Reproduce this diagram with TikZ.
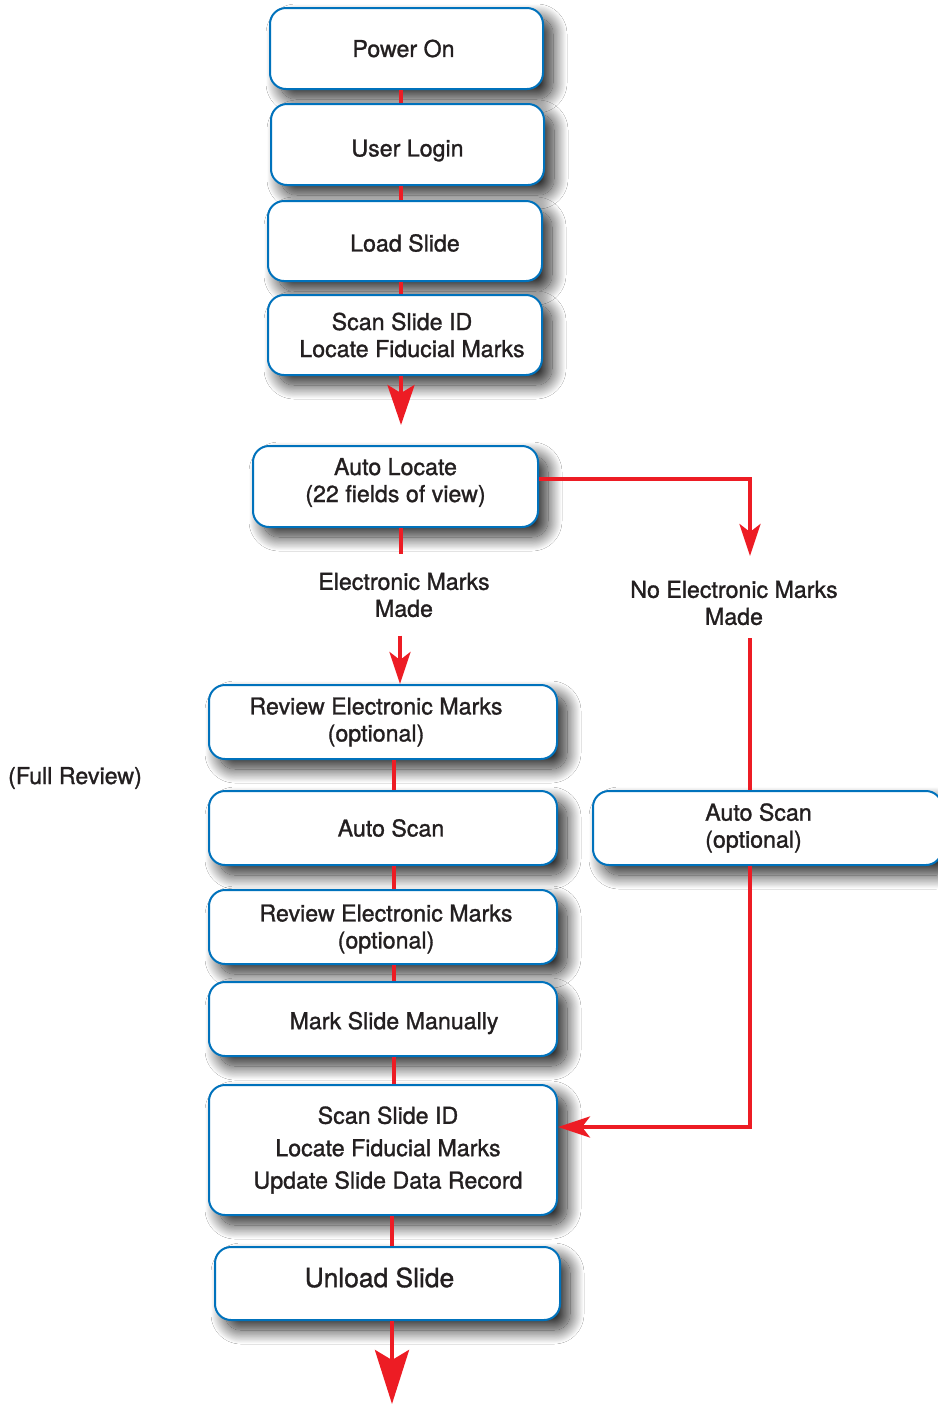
\documentclass[tikz,border=0pt]{standalone}
\usepackage{fontspec}
\setmainfont{TeX Gyre Heros}[UprightFeatures={FakeBold=1.2}]
\usetikzlibrary{arrows.meta,shadows.blur,calc}
\definecolor{boxblue}{RGB}{0,114,188}
\definecolor{flowred}{RGB}{237,28,36}
\definecolor{txt}{RGB}{35,31,32}
\newcommand{\lft}[2]{\raisebox{#1}[\height][\depth]{#2}}
\begin{document}
\begin{tikzpicture}[x=0.5pt,y=-0.5pt,
  box/.style={draw=boxblue, line width=1pt, rounded corners=8pt, fill=white,
    align=center, text=txt, font=\fontsize{11.6}{13.5}\selectfont,
    blur shadow={shadow xshift=5pt, shadow yshift=-5pt, shadow blur radius=7pt, shadow blur steps=24, shadow opacity=85}},
  lbl/.style={align=center, text=txt, font=\fontsize{11.6}{13.5}\selectfont, inner sep=0pt},
  conn/.style={draw=flowred, line width=2pt},
  arr/.style={conn, -{Stealth[length=16pt,width=10.5pt,inset=4pt]}},
  bigarr/.style={conn, -{Stealth[length=20pt,width=13.5pt,inset=4pt]}},
  hugearr/.style={conn, -{Stealth[length=27pt,width=17pt,inset=5pt]}}
]
\useasboundingbox (0,0) rectangle (938,1405);
\clip (0,0) rectangle (938,1405);
\fill[white] (0,0) rectangle (938,1405);

% boxes
\node[box, minimum width=136.5pt, minimum height=40.5pt] (b1) at (406.5,48.5) {\hspace*{-3pt}Power On};
\node[box, minimum width=136.5pt, minimum height=40.5pt] (b2) at (407.5,144.5) {\lft{-3pt}{User Login}};
\node[box, minimum width=137pt, minimum height=40pt] (b3) at (405,241) {\lft{-1pt}{Load Slide}};
\node[box, minimum width=137pt, minimum height=40pt] (b4) at (405,335) {\hspace*{-3pt}Scan Slide ID\\\hspace*{7pt}Locate Fiducial Marks};
\node[box, minimum width=142.5pt, minimum height=40.5pt] (b5) at (395.5,486.5) {\lft{2pt}{Auto Locate}\\\lft{2pt}{(22 fields of view)}};
\node[box, minimum width=174pt, minimum height=37pt] (b6) at (383,722) {\hspace*{-7pt}Review Electronic Marks\\\hspace*{-7pt}(optional)};
\node[box, minimum width=174pt, minimum height=37pt] (b7) at (383,828) {\hspace*{8pt}Auto Scan};
\node[box, minimum width=174.5pt, minimum height=37pt, align=left] (b8) at (767.5,828) {\hspace*{-9pt}Auto Scan\\\hspace*{-9pt}(optional)};
\node[box, minimum width=174pt, minimum height=37pt] (b9) at (383,927) {\hspace*{3pt}\lft{-1pt}{Review Electronic Marks}\\\hspace*{3pt}\lft{-1pt}{(optional)}};
\node[box, minimum width=174pt, minimum height=37pt] (b10) at (383,1019) {\hspace*{11pt}\lft{-2pt}{Mark Slide Manually}};
\node[box, minimum width=174pt, minimum height=65pt, font=\fontsize{11.6}{16.2}\selectfont] (b11) at (383,1150) {\hspace*{5pt}Scan Slide ID\\\hspace*{5pt}Locate Fiducial Marks\\\hspace*{5pt}Update Slide Data Record};
\node[box, minimum width=172.5pt, minimum height=36.5pt, font=\fontsize{13.2}{15}\selectfont] (b12) at (387.5,1283.5) {\hspace*{-8pt}\lft{3pt}{Unload Slide}};

% labels
\node[lbl, inner ysep=9pt] (l1) at (404,595) {Electronic Marks\\Made};
\node[lbl] (l2) at (734,603) {No Electronic Marks\\Made};
\node[lbl] (l3) at (75,778) {(Full Review)};

% helper coordinates
\coordinate (c401) at (401,0);
\coordinate (c394) at (394,0);
\coordinate (c750) at (750,0);
\coordinate (a1) at (401,425);
\coordinate (n1) at (750,556);
\coordinate (n2) at (750,638);
\coordinate (e1) at (392,1404);

% connectors
\draw[conn] (b1.south -| c401) -- (b2.north -| c401);
\draw[conn] (b2.south -| c401) -- (b3.north -| c401);
\draw[conn] (b3.south -| c401) -- (b4.north -| c401);
\draw[bigarr] (b4.south -| c401) -- (a1);
\draw[conn] (b5.south -| c401) -- (l1.north -| c401);
\draw[arr] (l1.south -| b6.north) ++(17,0) -- ($(b6.north)+(17,0)$);
\draw[arr] ([yshift=3.75pt]b5.east) -| (n1);
\draw[conn] (n2) -- (b8.north -| c750);
\draw[arr] (b8.south -| c750) |- ([yshift=11.5pt]b11.east);
\draw[conn] (b6.south -| c394) -- (b7.north -| c394);
\draw[conn] (b7.south -| c394) -- (b9.north -| c394);
\draw[conn] (b9.south -| c394) -- (b10.north -| c394);
\draw[conn] (b10.south -| c394) -- (b11.north -| c394);
\draw[conn] ([xshift=4.5pt]b11.south) -- ([xshift=2.25pt]b12.north);
\draw[hugearr] ([xshift=2.25pt]b12.south) -- (e1);
\end{tikzpicture}
\end{document}
